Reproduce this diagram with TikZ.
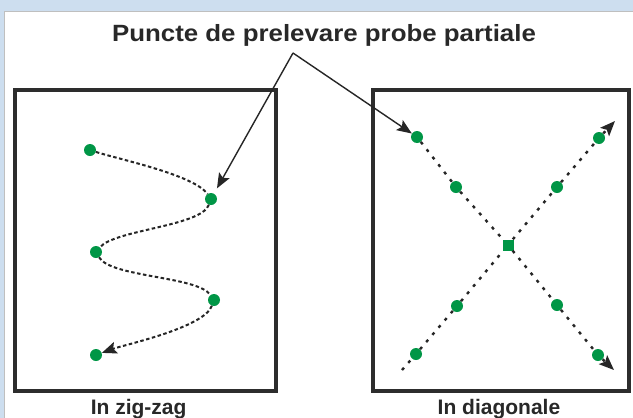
\documentclass[tikz,border=0pt]{standalone}
\usepackage{fontspec}
\setmainfont{Liberation Sans}
\newfontfamily\titlefont{Liberation Sans}[FakeStretch=1.1]
\usepackage{xcolor}
\usetikzlibrary{arrows.meta}

\definecolor{panelblue}{RGB}{205,222,239}
\definecolor{framegray}{RGB}{45,45,45}
\definecolor{textgray}{RGB}{40,40,40}
\definecolor{dotgreen}{RGB}{0,150,70}

\begin{document}
\begin{tikzpicture}[x=1pt, y=-1pt,
    every node/.style={text=textgray},
    frame/.style={draw=framegray, line width=3.2pt},
    pt/.style={circle, fill=dotgreen, inner sep=0pt, minimum size=12pt},
    ptsq/.style={rectangle, fill=dotgreen, inner sep=0pt, minimum size=11pt},
    zz/.style={draw=black!85, line width=2pt, dash pattern=on 3.5pt off 2.5pt},
    diag/.style={draw=black!85, line width=2.4pt, dash pattern=on 3pt off 6.5pt},
    ptr/.style={draw=black!85, line width=1.4pt},
    tip/.style={-{Stealth[length=15pt,width=12pt,inset=3pt]}},
    lbl/.style={font=\fontsize{21}{24}\selectfont\bfseries, anchor=base, inner sep=0pt}
]

% Background
\useasboundingbox (0,0) rectangle (633,418);
\fill[panelblue] (0,0) rectangle (633,418);
\fill[white] (4,11) rectangle (633,418);
\draw[gray!50, line width=0.8pt] (4,418) -- (4,11) -- (633,11);

% Title
\node[font=\titlefont\fontsize{23.5}{26}\selectfont\bfseries, anchor=base, inner sep=0pt] (title) at (324,41) {Puncte de prelevare probe partiale};
\coordinate (apex) at (293,53);

% Frames
\draw[frame] (15,90) rectangle (276,391);
\draw[frame] (373,90) rectangle (629,391);

% Zig-zag points
\node[pt] (z1) at (90,150) {};
\node[pt] (z2) at (211,199) {};
\node[pt] (z3) at (96,252) {};
\node[pt] (z4) at (214,300) {};
\node[pt] (z5) at (96,355) {};

\draw[zz] (z1) to[out=-18, in=125, looseness=0.5] (z2);
\draw[zz] (z2) to[out=-110, in=50, looseness=0.5] (z3);
\draw[zz] (z3) to[out=-60, in=125, looseness=0.5] (z4);
\draw[zz, tip] (z4) to[out=-110, in=20, looseness=0.5] (z5);

% Diagonal points
\node[pt] (a1) at (417,137) {};
\node[pt] (a2) at (456,187) {};
\node[ptsq] (c) at (508,245) {};
\node[pt] (a4) at (557,305) {};
\node[pt] (a5) at (598,355) {};
\node[pt] (b1) at (416,354) {};
\node[pt] (b2) at (457,306) {};
\node[pt] (b4) at (557,187) {};
\node[pt] (b5) at (599,138) {};
\coordinate (a6) at (614,370);
\coordinate (b0) at (402,370);
\coordinate (b6) at (615,121);

\draw[diag] (a1) -- (a2) -- (c) -- (a4) -- (a5);
\draw[diag, tip] (a5) -- (a6);
\draw[diag] (b0) -- (b1) -- (b2) -- (c) -- (b4) -- (b5);
\draw[diag, tip] (b5) -- (b6);

% Pointers
\draw[ptr, tip, shorten >=6pt] (apex) -- (z2);
\draw[ptr, tip] (apex) -- (a1);

% Labels
\node[lbl] (zzlbl) at (138.6,414) {In zig-zag};
\node[lbl] (dglbl) at (499,414) {In diagonale};

\end{tikzpicture}
\end{document}
